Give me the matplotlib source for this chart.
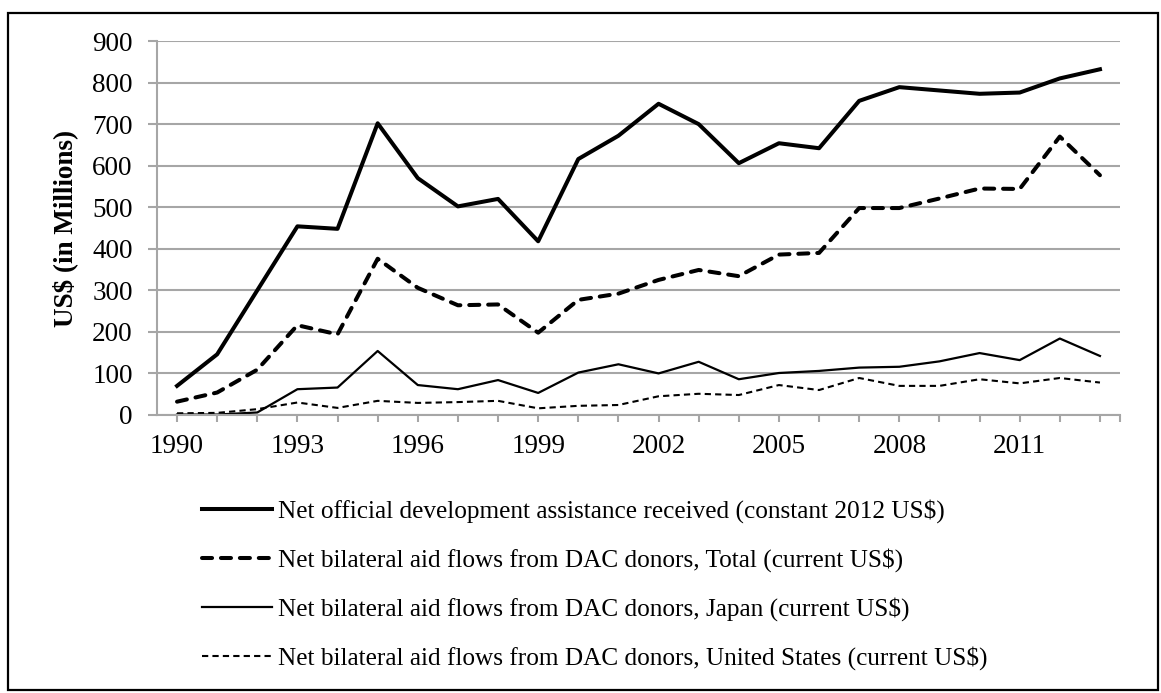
import matplotlib.pyplot as plt
from matplotlib.patches import Rectangle
import numpy as np

plt.rcParams['font.family'] = ['Liberation Serif', 'DejaVu Serif']

years = np.arange(1990, 2014)

# net ODA received, constant 2012 US$ (millions)
oda_total = [70, 146, 300, 454, 448, 702, 570, 502, 520, 418, 616, 672,
             749, 700, 606, 654, 642, 756, 789, 781, 773, 776, 810, 832]
# net bilateral aid flows from DAC donors, current US$ (millions)
dac_total = [32, 54, 109, 216, 194, 376, 306, 264, 266, 198, 277, 292,
             325, 349, 334, 386, 390, 498, 498, 521, 545, 544, 670, 577]
dac_japan = [1, 1, 6, 62, 66, 154, 72, 62, 84, 53, 102, 122,
             100, 128, 86, 101, 106, 114, 116, 129, 149, 132, 184, 142]
dac_us = [4, 5, 14, 30, 17, 34, 29, 31, 34, 16, 22, 24,
          45, 51, 48, 72, 60, 89, 70, 70, 86, 76, 89, 78]

labels = ['Net official development assistance received (constant 2012 US$)',
          'Net bilateral aid flows from DAC donors, Total (current US$)',
          'Net bilateral aid flows from DAC donors, Japan (current US$)',
          'Net bilateral aid flows from DAC donors, United States (current US$)']

fig = plt.figure(figsize=(11.61, 6.93), dpi=100)
ax = fig.add_axes([0.1352, 0.4012, 0.8295, 0.5396])

ax.plot(years, oda_total, color='black', lw=2.9, label=labels[0])
ax.plot(years, dac_total, color='black', lw=2.9, linestyle=(0, (2.5, 2.2)),
        dash_capstyle='round', label=labels[1])
ax.plot(years, dac_japan, color='black', lw=1.6, label=labels[2])
ax.plot(years, dac_us, color='black', lw=1.5, linestyle=(0, (3, 2)), label=labels[3])

ax.set_xlim(1989.5, 2013.5)
ax.set_ylim(0, 900)
ax.set_yticks(np.arange(0, 901, 100))
ax.set_xticks(np.append(years, 2013.5))
ax.set_xticklabels([str(y) if (y - 1990) % 3 == 0 else '' for y in years] + [''])

grid_grey = '#a6a6a6'
ax.yaxis.grid(True, color=grid_grey, lw=1.5)
ax.set_axisbelow(True)
for side in ['top', 'right']:
    ax.spines[side].set_visible(False)
for side in ['left', 'bottom']:
    ax.spines[side].set_color(grid_grey)
    ax.spines[side].set_linewidth(1.5)
ax.tick_params(axis='y', length=6.5, width=1.5, color=grid_grey, pad=11, labelsize=19.5)
ax.tick_params(axis='x', length=5, width=1.5, color=grid_grey, pad=9, labelsize=19.5)

ax.set_ylabel('US$ (in Millions)', fontsize=19.5, fontweight='bold', labelpad=10)

fig.legend(loc='upper left', bbox_to_anchor=(0.174, 0.280), frameon=False,
           borderpad=0, borderaxespad=0, fontsize=18.2, handlelength=2.77,
           handletextpad=0.24, labelspacing=1.0)

# outer frame
fig.patches.append(Rectangle((0.007, 0.004), 0.990, 0.977, transform=fig.transFigure,
                             fill=False, edgecolor='black', lw=1.6))

fig.savefig('out.png', dpi=100)
